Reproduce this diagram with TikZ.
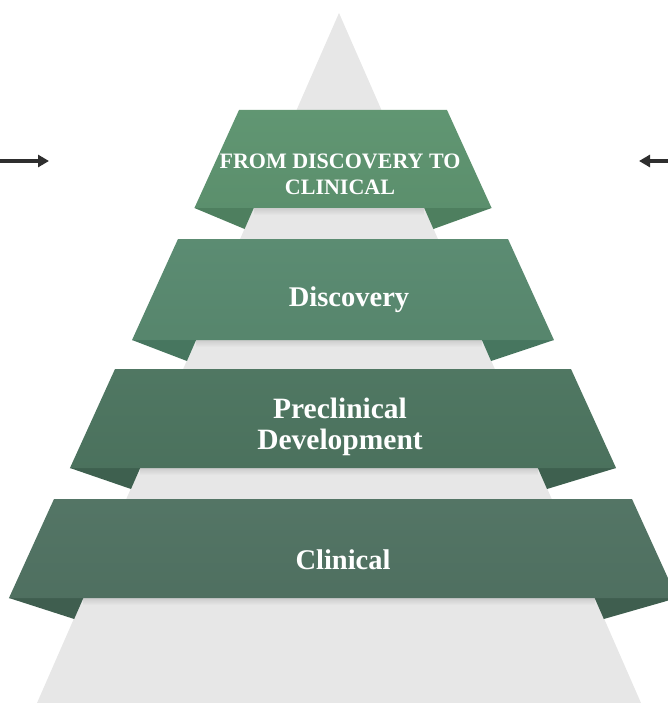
\documentclass[tikz,border=0pt]{standalone}
\usepackage{fontspec}
\setmainfont{Liberation Serif}
\usetikzlibrary{arrows.meta}
\definecolor{pgray}{HTML}{E7E7E7}
\definecolor{bandA}{HTML}{5F9571}
\definecolor{foldA}{HTML}{4E7F5F}
\definecolor{bandB}{HTML}{5A8B71}
\definecolor{foldB}{HTML}{47765F}
\definecolor{bandC}{HTML}{4E7661}
\definecolor{foldC}{HTML}{3E604F}
\definecolor{bandD}{HTML}{527464}
\definecolor{foldD}{HTML}{3F5E4F}
\definecolor{arrowc}{HTML}{2E2E2E}
\newcommand{\ribbonband}[5]{%
  % #1 top y, #2 bottom y, #3 top half width, #4 band colour, #5 fold colour
  \pgfmathsetmacro{\rbHalfBot}{#3+0.455*(#2-#1)}
  \pgfmathsetmacro{\rbGL}{339-0.437*(#2-13)}
  \pgfmathsetmacro{\rbGR}{339+0.437*(#2-13)}
  \pgfmathsetmacro{\rbTL}{339-0.437*(#2+21-13)}
  \pgfmathsetmacro{\rbTR}{339+0.437*(#2+21-13)}
  \shade[top color=black!20, bottom color=pgray] (\rbGL,#2) rectangle (\rbGR,#2+7);
  \fill[#5] (343-\rbHalfBot,#2) -- (\rbGL,#2) -- (\rbTL,#2+21) -- cycle;
  \fill[#5] (343+\rbHalfBot,#2) -- (\rbGR,#2) -- (\rbTR,#2+21) -- cycle;
  \shade[top color=#4!99!white, bottom color=#4!96!black]
    (343-#3,#1) -- (343+#3,#1) -- (343+\rbHalfBot,#2) -- (343-\rbHalfBot,#2) -- cycle;
}
\begin{document}
\begin{tikzpicture}[x=1pt,y=-1pt,
  bandtext/.style={text=white,align=center,inner sep=0pt},
  arrowline/.style={draw=arrowc,line width=3.3pt,-{Triangle[length=11pt,width=12pt]}}]
\useasboundingbox (0,0) rectangle (668,703);
% pyramid
\fill[pgray] (339,13) -- (37,703) -- (641,703) -- cycle;
% bands
\ribbonband{110}{208}{104}{bandA}{foldA}
\ribbonband{239}{340}{165}{bandB}{foldB}
\ribbonband{369}{468}{228}{bandC}{foldC}
\ribbonband{499}{598}{289}{bandD}{foldD}
% texts
\node[bandtext,font=\bfseries\fontsize{22}{26}\selectfont] (t1) at (340,174) {FROM DISCOVERY TO\\CLINICAL};
\node[bandtext,font=\bfseries\fontsize{28.5}{32}\selectfont,anchor=base] (t2) at (349,306) {Discovery};
\node[bandtext,font=\bfseries\fontsize{29.5}{31}\selectfont] (t3) at (340,427) {Preclinical\\Development};
\node[bandtext,font=\bfseries\fontsize{28.5}{32}\selectfont,anchor=base] (t4) at (343,569) {Clinical};
% arrows
\coordinate (la) at (0,161);
\coordinate (lb) at (49,161);
\coordinate (ra) at (668,161);
\coordinate (rb) at (639,161);
\draw[arrowline] (la) -- (lb);
\draw[arrowline] (ra) -- (rb);
\end{tikzpicture}
\end{document}
